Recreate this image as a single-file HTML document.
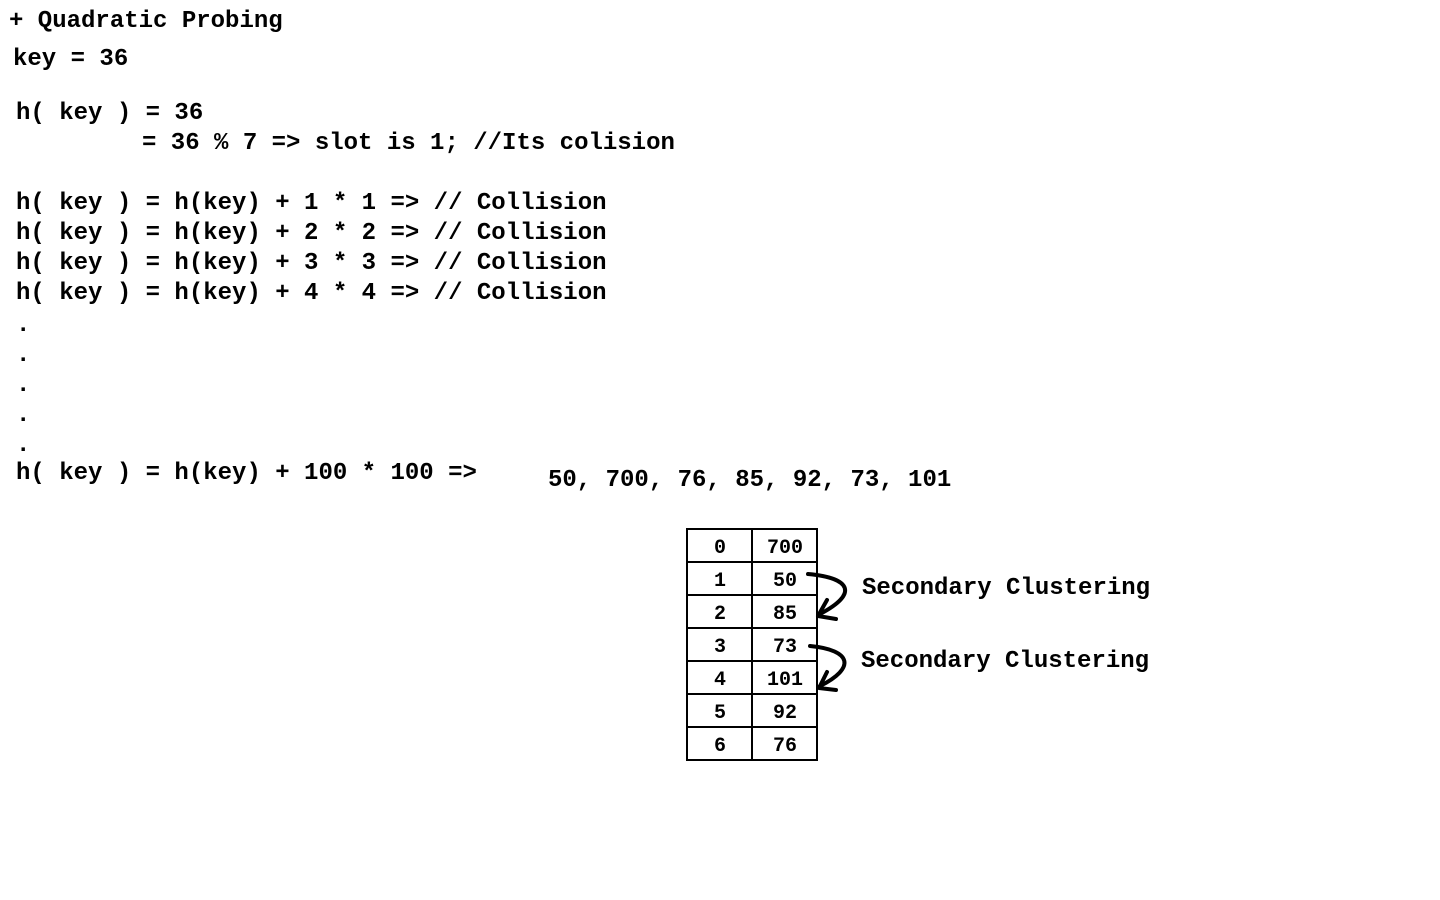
<!DOCTYPE html>
<html><head><meta charset="utf-8"><style>
html,body{margin:0;padding:0;background:#fff;width:1440px;height:900px;overflow:hidden}
svg text{font-family:"Liberation Mono",monospace;font-weight:bold;fill:#000}
</style></head><body>
<svg width="1440" height="900" viewBox="0 0 1440 900" xmlns="http://www.w3.org/2000/svg">
<g font-size="24">
<text x="9" y="27">+ Quadratic Probing</text>
<text x="13" y="65">key = 36</text>
<text x="16" y="119">h( key ) = 36</text>
<text x="142" y="149">= 36 % 7 =&gt; slot is 1; //Its colision</text>
<text x="16" y="209">h( key ) = h(key) + 1 * 1 =&gt; // Collision</text>
<text x="16" y="239">h( key ) = h(key) + 2 * 2 =&gt; // Collision</text>
<text x="16" y="269">h( key ) = h(key) + 3 * 3 =&gt; // Collision</text>
<text x="16" y="299">h( key ) = h(key) + 4 * 4 =&gt; // Collision</text>
<text x="16" y="331">.</text>
<text x="16" y="361">.</text>
<text x="16" y="391">.</text>
<text x="16" y="421">.</text>
<text x="16" y="451">.</text>
<text x="16" y="479">h( key ) = h(key) + 100 * 100 =&gt;</text>
<text x="548" y="486">50, 700, 76, 85, 92, 73, 101</text>
<text x="862" y="594">Secondary Clustering</text>
<text x="861" y="667">Secondary Clustering</text>
</g>
<g stroke="#000" stroke-width="2" fill="none">
<rect x="687" y="529" width="130" height="231"/>
<line x1="752" y1="529" x2="752" y2="760"/>
<line x1="687" y1="562" x2="817" y2="562"/>
<line x1="687" y1="595" x2="817" y2="595"/>
<line x1="687" y1="628" x2="817" y2="628"/>
<line x1="687" y1="661" x2="817" y2="661"/>
<line x1="687" y1="694" x2="817" y2="694"/>
<line x1="687" y1="727" x2="817" y2="727"/>
</g>
<g font-size="20" text-anchor="middle">
<text x="720" y="553">0</text><text x="785" y="553">700</text>
<text x="720" y="586">1</text><text x="785" y="586">50</text>
<text x="720" y="619">2</text><text x="785" y="619">85</text>
<text x="720" y="652">3</text><text x="785" y="652">73</text>
<text x="720" y="685">4</text><text x="785" y="685">101</text>
<text x="720" y="718">5</text><text x="785" y="718">92</text>
<text x="720" y="751">6</text><text x="785" y="751">76</text>
</g>
<g stroke="#000" stroke-width="4" fill="none" stroke-linecap="round" stroke-linejoin="round">
<path d="M808 574 C852 578 858 594 820 614"/>
<path d="M827 600 L818 616 L836 619"/>
<path d="M810 646 C852 650 856 668 820 686"/>
<path d="M827 672 L819 688 L836 690"/>
</g>
</svg>
</body></html>
